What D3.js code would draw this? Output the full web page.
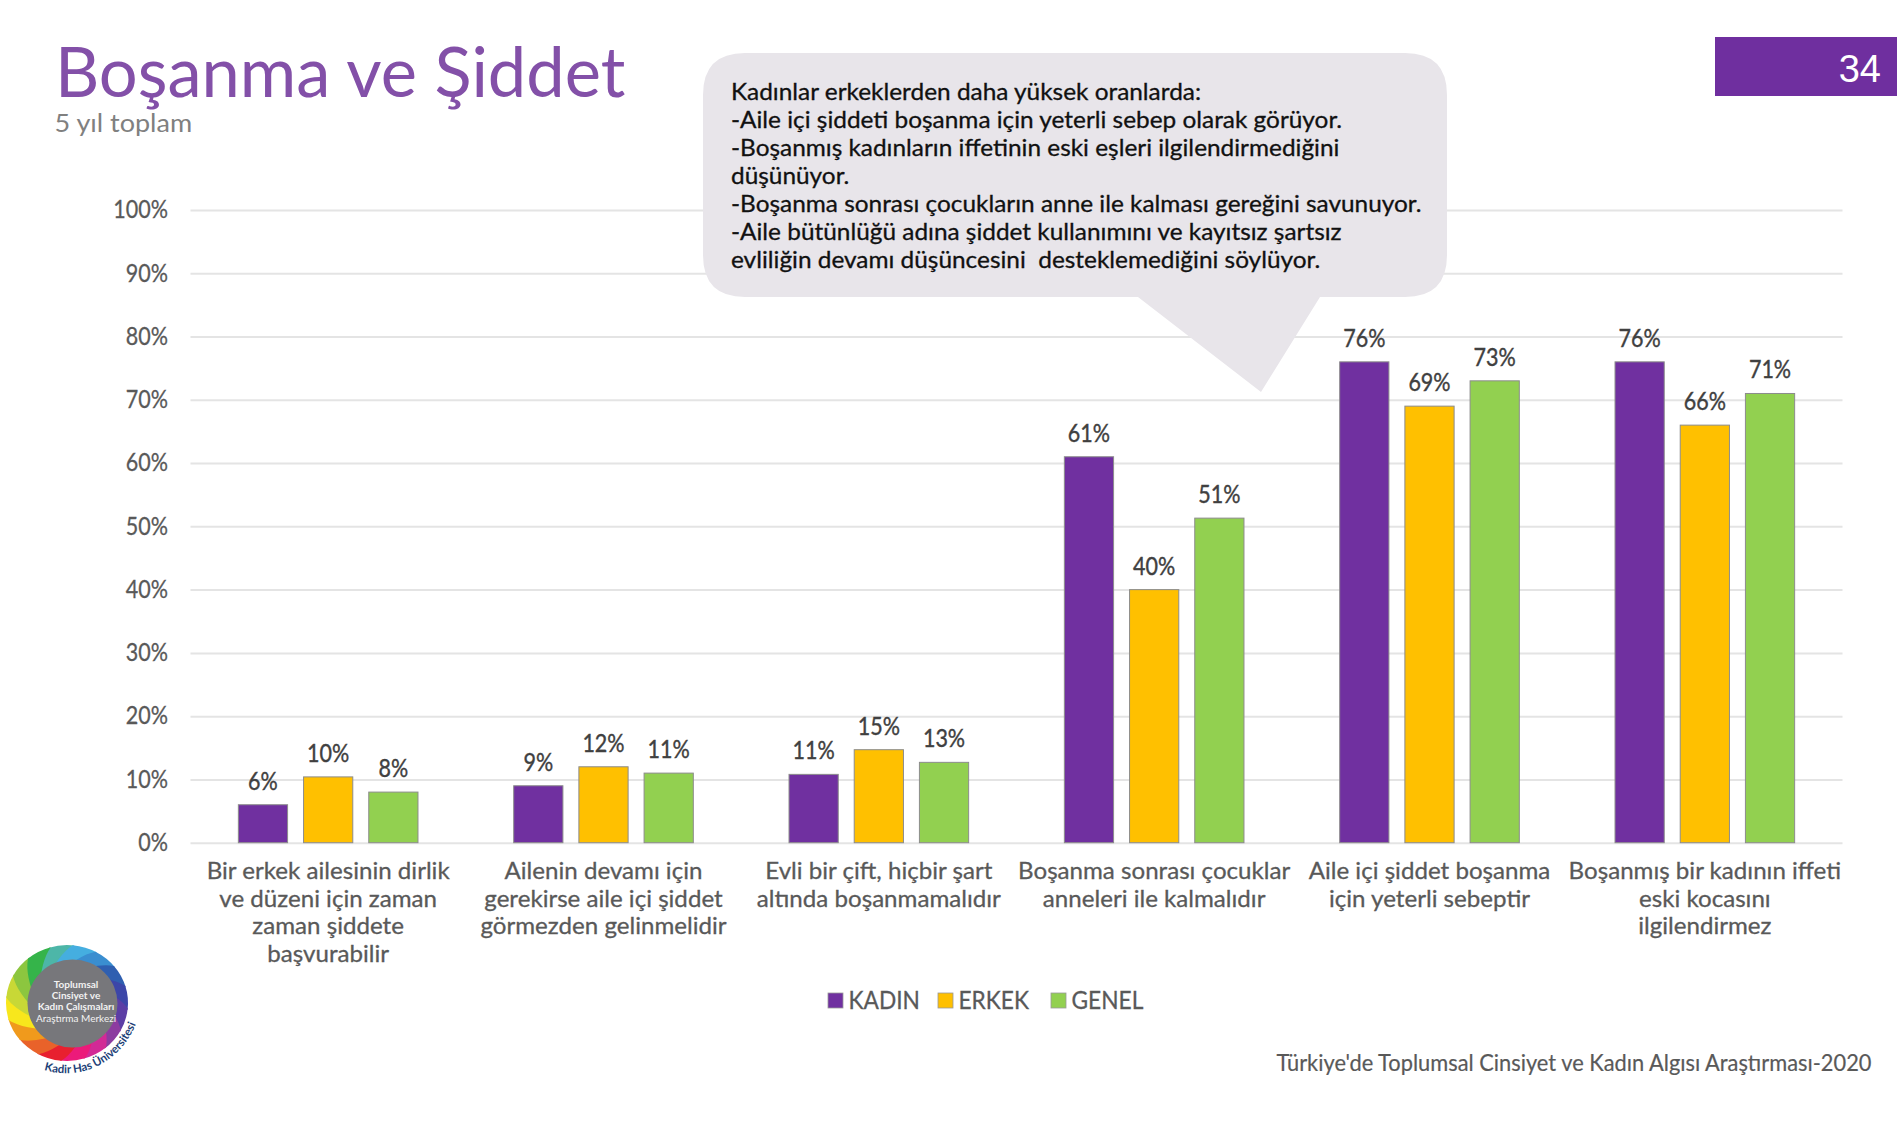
<!DOCTYPE html>
<html lang="tr">
<head>
<meta charset="utf-8">
<title>Boşanma ve Şiddet</title>
<script src="https://cdn.jsdelivr.net/npm/d3@7"></script>
<style>
html,body{margin:0;padding:0;background:#fff;}
svg{display:block;}
text{font-family:Lato,"Noto Sans",sans-serif;}
</style>
</head>
<body>
<svg id="c" width="1897" height="1125" viewBox="0 0 1897 1125"></svg>
<script>
const categories = [
  ["Bir erkek ailesinin dirlik","ve düzeni için zaman","zaman şiddete","başvurabilir"],
  ["Ailenin devamı için","gerekirse aile içi şiddet","görmezden gelinmelidir"],
  ["Evli bir çift, hiçbir şart","altında boşanmamalıdır"],
  ["Boşanma sonrası çocuklar","anneleri ile kalmalıdır"],
  ["Aile içi şiddet boşanma","için yeterli sebeptir"],
  ["Boşanmış bir kadının iffeti","eski kocasını","ilgilendirmez"]
];
const seriesNames = ["KADIN","ERKEK","GENEL"];
const seriesColors = ["#7030a0","#ffc000","#92d050"];
const kadin = [6, 9, 10.8, 61, 76, 76];
const erkek = [10.4, 12, 14.7, 40, 69, 66];
const genel = [8, 11, 12.7, 51.3, 73, 71];
const yTicks = [0,10,20,30,40,50,60,70,80,90,100];
const calloutLines = [
  "Kadınlar erkeklerden daha yüksek oranlarda:",
  "-Aile içi şiddeti boşanma için yeterli sebep olarak görüyor.",
  "-Boşanmış kadınların iffetinin eski eşleri ilgilendirmediğini",
  "düşünüyor.",
  "-Boşanma sonrası çocukların anne ile kalması gereğini savunuyor.",
  "-Aile bütünlüğü adına şiddet kullanımını ve kayıtsız şartsız",
  "evliliğin devamı düşüncesini  desteklemediğini söylüyor."
];
const seriesValues = [kadin, erkek, genel];

const svg = d3.select("#c");
const plot = {left:190.5, right:1842.5, top:210, bottom:842.7};
const GRID = "#e4e4e4", AXTXT = "#595959";

// Squeeze text horizontally: the source face is narrower than the installed one.
function squeeze(sel, ratio){
  sel.each(function(){
    const w = this.getComputedTextLength();
    this.setAttribute("textLength", (w*ratio).toFixed(1));
    this.setAttribute("lengthAdjust","spacingAndGlyphs");
  });
  return sel;
}
// The source text is slightly heavier than the installed regular weight.
function heft(sel, color, w){
  return sel.attr("stroke",color).attr("stroke-width",w).attr("paint-order","stroke");
}

const x0 = d3.scaleBand().domain(d3.range(categories.length)).range([plot.left, plot.right]);
const x1 = d3.scaleBand().domain(d3.range(seriesNames.length)).range([0, x0.bandwidth()])
  .paddingInner(0.245).paddingOuter(0.734);
const y = d3.scaleLinear().domain([0,100]).range([plot.bottom, plot.top]);

// header
svg.append("text").attr("x",55).attr("y",97).attr("font-size",70).attr("fill","#8350a8")
  .text("Boşanma ve Şiddet").call(squeeze,0.98);
svg.append("text").attr("x",54.5).attr("y",132).attr("font-size",25).attr("fill","#808080")
  .text("5 yıl toplam").call(squeeze,1.08);

// y axis + grid
const gy = svg.append("g").attr("transform",`translate(${plot.left},0)`)
  .call(d3.axisLeft(y).tickValues(yTicks).tickFormat(d=>d+"%").tickSize(-(plot.right-plot.left)).tickPadding(22.5));
gy.select(".domain").remove();
gy.selectAll(".tick line").attr("stroke",GRID).attr("stroke-width",2);
gy.selectAll(".tick text").attr("font-size",25).attr("fill",AXTXT).attr("dy","0.31em").style("font-family","Lato")
  .call(squeeze,0.86).call(heft,AXTXT,0.3);

// bars
const groups = svg.selectAll("g.grp").data(categories).join("g").attr("class","grp")
  .attr("transform",(d,i)=>`translate(${x0(i)},0)`);
groups.each(function(d,ci){
  const g = d3.select(this);
  const rows = seriesValues.map((s,si)=>({si, v:s[ci]}));
  g.selectAll("rect").data(rows).join("rect")
    .attr("x",r=>x1(r.si)).attr("width",x1.bandwidth())
    .attr("y",r=>y(r.v)).attr("height",r=>y(0)-y(r.v))
    .attr("fill",r=>seriesColors[r.si]).attr("stroke","#8c8c8c").attr("stroke-width",1);
  g.selectAll("text.val").data(rows).join("text").attr("class","val")
    .attr("x",r=>x1(r.si)+x1.bandwidth()/2).attr("y",r=>y(r.v)-15)
    .attr("text-anchor","middle").attr("font-size",25).attr("fill","#404040")
    .text(r=>d3.format(".0f")(r.v)+"%").call(squeeze,0.86).call(heft,"#404040",0.4);
});

// category labels
const lab = groups.append("text").attr("text-anchor","middle").attr("fill",AXTXT).attr("font-size",24)
  .call(heft,AXTXT,0.3);
lab.each(function(lines){
  const t = d3.select(this);
  lines.forEach((l,i)=>{
    t.append("tspan").attr("x",x0.bandwidth()/2).attr("y",879+i*27.5).text(l);
  });
});
lab.selectAll("tspan").call(squeeze,1.005);

// callout
svg.append("path").attr("fill","#e8e5ea").attr("d",(()=>{
  const p=d3.path(), l=703,r=1447,t=53,b=297,R=42;
  p.moveTo(l+R,t); p.lineTo(r-R,t); p.quadraticCurveTo(r,t,r,t+R);
  p.lineTo(r,b-R); p.quadraticCurveTo(r,b,r-R,b);
  p.lineTo(1320,b); p.lineTo(1261,392); p.lineTo(1138,b);
  p.lineTo(l+R,b); p.quadraticCurveTo(l,b,l,b-R);
  p.lineTo(l,t+R); p.quadraticCurveTo(l,t,l+R,t); p.closePath();
  return p.toString();
})());
svg.append("g").selectAll("text").data(calloutLines).join("text")
  .attr("x",731).attr("y",(d,i)=>99.5+i*28).attr("font-size",23).attr("fill","#111")
  .style("white-space","pre").attr("xml:space","preserve").text(d=>d).call(squeeze,1.06).call(heft,"#111",0.3);

// page tag
svg.append("rect").attr("x",1715).attr("y",37).attr("width",182).attr("height",59).attr("fill","#6f2f9f");
svg.append("text").attr("x",1881).attr("y",82).attr("text-anchor","end").attr("font-size",38)
  .attr("fill","#fff").style("font-family","'Liberation Sans'").text("34");

// legend
const legendX = [828,938,1051];
const lg = svg.append("g").selectAll("g").data(seriesNames).join("g")
  .attr("transform",(d,i)=>`translate(${legendX[i]},993)`);
lg.append("rect").attr("width",15).attr("height",15).attr("fill",(d,i)=>seriesColors[i])
  .attr("stroke","#9a9a9a").attr("stroke-width",0.8);
lg.append("text").attr("x",20.5).attr("y",16).attr("font-size",25.5).attr("fill",AXTXT).text(d=>d)
  .call(squeeze,0.89).call(heft,AXTXT,0.3);

// source
svg.append("text").attr("x",1871.5).attr("y",1071).attr("text-anchor","end").attr("font-size",22.5)
  .attr("fill",AXTXT).text("Türkiye'de Toplumsal Cinsiyet ve Kadın Algısı Araştırması-2020")
  .call(squeeze,0.97).call(heft,AXTXT,0.2);

// logo: swirled colour wheel with a grey disc on top
const logo = svg.append("g").attr("transform","translate(67,1003) scale(1,0.95)");
const ringColors = ["#4db6a8","#45aee0","#3a8ed0","#2f5fb0","#3c46a8","#5c3ea5","#8d3ba0","#d22a96","#ec1a7a","#e8202f","#e9622a","#f09a1c","#f8e71c","#c8d836","#8cc63f","#35b44a"];
const R = 61, r0 = 30, twist = 0.9, step = 2*Math.PI/ringColors.length;
const pol = (a,r)=>[r*Math.sin(a), -r*Math.cos(a)];
ringColors.forEach((c,i)=>{
  const a0 = -0.3 + i*step, a1 = a0 + step*1.08;
  const p = d3.path();
  const [ox0,oy0] = pol(a0,R), [ox1,oy1] = pol(a1,R);
  const [ix1,iy1] = pol(a1-twist,r0), [ix0,iy0] = pol(a0-twist,r0);
  const [mx1,my1] = pol(a1-twist*0.3,(R+r0)/2+6), [mx0,my0] = pol(a0-twist*0.3,(R+r0)/2+6);
  p.moveTo(ox0,oy0); p.arc(0,0,R,a0-Math.PI/2,a1-Math.PI/2);
  p.quadraticCurveTo(mx1,my1,ix1,iy1); p.lineTo(ix0,iy0); p.quadraticCurveTo(mx0,my0,ox0,oy0);
  p.closePath();
  logo.append("path").attr("d",p.toString()).attr("fill",c);
});
svg.append("ellipse").attr("cx",72.5).attr("cy",1003.5).attr("rx",45).attr("ry",44).attr("fill","#77777b");
const logoLines = ["Toplumsal","Cinsiyet ve","Kadın Çalışmaları","Araştırma Merkezi"];
const logoBase = [988,998.5,1010,1022], logoW = ["bold","bold","bold","normal"];
svg.append("g").selectAll("text").data(logoLines).join("text")
  .attr("x",76).attr("y",(d,i)=>logoBase[i]).attr("text-anchor","middle").attr("font-size",10)
  .attr("font-weight",(d,i)=>logoW[i]).attr("fill","#f2f2f2").text(d=>d);
svg.append("defs").append("path").attr("id","lg").attr("d","M 44 1070 C 85 1082 128 1060 141 1009");
svg.append("text").attr("font-size",11.5).attr("font-weight","bold").attr("fill","#1d3f77")
  .append("textPath").attr("href","#lg").text("Kadir Has Üniversitesi");
</script>
</body>
</html>
